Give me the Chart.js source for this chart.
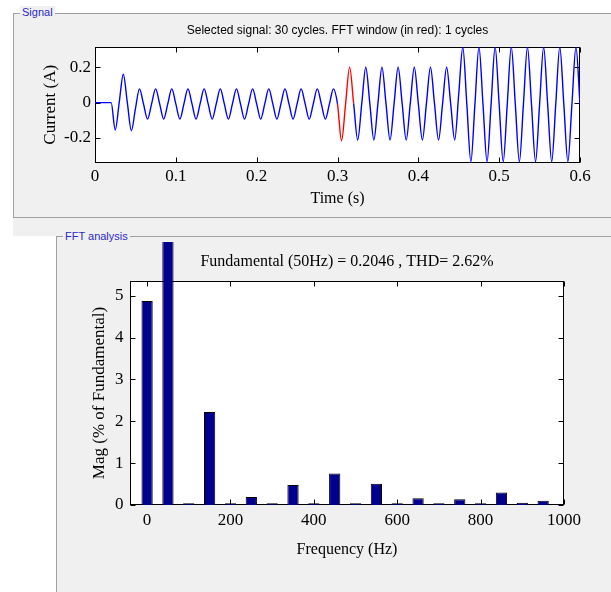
<!DOCTYPE html>
<html>
<head>
<meta charset="utf-8">
<title>powergui FFT analysis</title>
<script src="https://cdn.jsdelivr.net/npm/chart.js@4.4.1/dist/chart.umd.min.js"></script>
<style>
  html, body { margin: 0; padding: 0; background: #fff; }
  body { width: 611px; height: 592px; position: relative; overflow: hidden; }
  .panel { position: absolute; background: #f0f0f0; border: 1px solid #a0a0a0; }
  .band { position: absolute; background: #f0f0f0; }
  .panel-label {
    position: absolute; padding: 0 2px; background: #f0f0f0; color: #2b2bc4;
    font: 11px "Liberation Sans", Arial, sans-serif; line-height: 13px; white-space: nowrap;
  }
  canvas { position: absolute; }
</style>
</head>
<body>
  <div class="panel" style="left:13px; top:13px; width:640px; height:203px;"></div>
  <div class="band" style="left:13px; top:218px; width:640px; height:18px;"></div>
  <div class="panel" style="left:56px; top:236px; width:600px; height:400px;"></div>

  <canvas id="signalChart" width="597" height="203" style="left:14px; top:14px;"></canvas>
  <canvas id="fftChart" width="554" height="350" style="left:57px; top:242px;"></canvas>

  <div class="panel-label" style="left:20px; top:6px;">Signal</div>
  <div class="panel-label" style="left:63px; top:230px;">FFT analysis</div>

<script>
// Signal trace, sampled every quarter cycle (50 Hz)
const signalTime = [
  0, 0.005, 0.01, 0.015, 0.02,
  0.025, 0.03, 0.035, 0.04,
  0.045, 0.05, 0.055, 0.06,
  0.065, 0.07, 0.075, 0.08,
  0.085, 0.09, 0.095, 0.1,
  0.105, 0.11, 0.115, 0.12,
  0.125, 0.13, 0.135, 0.14,
  0.145, 0.15, 0.155, 0.16,
  0.165, 0.17, 0.175, 0.18,
  0.185, 0.19, 0.195, 0.2,
  0.205, 0.21, 0.215, 0.22,
  0.225, 0.23, 0.235, 0.24,
  0.245, 0.25, 0.255, 0.26,
  0.265, 0.27, 0.275, 0.28,
  0.285, 0.29, 0.295, 0.3,
  0.305, 0.31, 0.315, 0.32,
  0.325, 0.33, 0.335, 0.34,
  0.345, 0.35, 0.355, 0.36,
  0.365, 0.37, 0.375, 0.38,
  0.385, 0.39, 0.395, 0.4,
  0.405, 0.41, 0.415, 0.42,
  0.425, 0.43, 0.435, 0.44,
  0.445, 0.45, 0.455, 0.46,
  0.465, 0.47, 0.475, 0.48,
  0.485, 0.49, 0.495, 0.5,
  0.505, 0.51, 0.515, 0.52,
  0.525, 0.53, 0.535, 0.54,
  0.545, 0.55, 0.555, 0.56,
  0.565, 0.57, 0.575, 0.58,
  0.585, 0.59, 0.595, 0.6,
];
const signalCurrent = [
  0, 0, 0, 0, 0,
  -0.155, 0.002, 0.161, 0.0,
  -0.159, -0.035, 0.078, -0.007,
  -0.093, -0.007, 0.078, -0.007,
  -0.093, -0.007, 0.078, -0.007,
  -0.093, -0.007, 0.078, -0.007,
  -0.093, -0.007, 0.078, -0.007,
  -0.093, -0.007, 0.078, -0.007,
  -0.093, -0.007, 0.078, -0.007,
  -0.093, -0.007, 0.078, -0.007,
  -0.093, -0.007, 0.078, -0.007,
  -0.093, -0.007, 0.078, -0.007,
  -0.093, -0.007, 0.078, -0.007,
  -0.093, -0.007, 0.078, -0.007,
  -0.093, -0.007, 0.078, -0.007,
  -0.216, -0.008, 0.201, -0.006,
  -0.212, -0.006, 0.2, -0.006,
  -0.212, -0.006, 0.2, -0.006,
  -0.212, -0.006, 0.2, -0.006,
  -0.212, -0.006, 0.2, -0.006,
  -0.212, -0.006, 0.2, -0.006,
  -0.212, -0.006, 0.2, -0.006,
  -0.212, 0.05, 0.315, -0.01,
  -0.335, -0.01, 0.315, -0.01,
  -0.335, -0.01, 0.315, -0.01,
  -0.335, -0.01, 0.315, -0.01,
  -0.335, -0.01, 0.315, -0.01,
  -0.335, -0.01, 0.315, -0.01,
  -0.335, -0.01, 0.315, -0.01,
  -0.335, -0.01, 0.315, -0.01,
];
const fftWindowStart = 0.3;
const fftWindowEnd = 0.32;
const timeTicks = [0, 0.1, 0.2, 0.3, 0.4, 0.5, 0.6];
const currentTicks = [-0.2, 0, 0.2];

// Harmonic spectrum, % of fundamental
const harmonicFreq = [0, 50, 100, 150, 200, 250, 300, 350, 400, 450, 500, 550, 600, 650, 700, 750, 800, 850, 900, 950];
const harmonicMag = [4.87, 100, 0.04, 2.22, 0.04, 0.19, 0.04, 0.48, 0.04, 0.75, 0.04, 0.51, 0.04, 0.16, 0.04, 0.135, 0.04, 0.3, 0.055, 0.1];
const freqTicks = [0, 200, 400, 600, 800, 1000];
const magTicks = [0, 1, 2, 3, 4, 5];

const selectedCycles = 30;
const windowCycles = 1;
const fundamentalAmp = 0.2046;
const thdPercent = 2.62;

const serif = '"Liberation Serif", "Times New Roman", serif';
const sans = '"Liberation Sans", Arial, sans-serif';
Chart.defaults.color = "#000";
Chart.defaults.font.family = serif;

// White plot box with inward ticks on all four sides
const boxedAxes = {
  id: "boxedAxes",
  beforeDraw(chart) {
    const { ctx, chartArea: a } = chart;
    ctx.save();
    ctx.fillStyle = "#fff";
    ctx.fillRect(a.left, a.top, a.right - a.left, a.bottom - a.top);
    ctx.restore();
  },
  beforeDatasetsDraw(chart) {
    const { ctx, chartArea: a, scales } = chart;
    const len = 5;
    const l = Math.round(a.left) + 0.5;
    const r = Math.round(a.right) - 0.5;
    const t = Math.round(a.top) + 0.5;
    const b = Math.round(a.bottom) - 0.5;
    ctx.save();
    ctx.strokeStyle = "#000";
    ctx.lineWidth = 1;
    ctx.beginPath();
    scales.x.ticks.forEach((tick) => {
      const px = Math.round(scales.x.getPixelForValue(tick.value)) + 0.5;
      ctx.moveTo(px, b);
      ctx.lineTo(px, b - len);
      ctx.moveTo(px, t);
      ctx.lineTo(px, t + len);
    });
    scales.y.ticks.forEach((tick) => {
      const py = Math.round(scales.y.getPixelForValue(tick.value)) + 0.5;
      ctx.moveTo(l, py);
      ctx.lineTo(l + len, py);
      ctx.moveTo(r, py);
      ctx.lineTo(r - len, py);
    });
    ctx.stroke();
    ctx.strokeRect(l, t, r - l, b - t);
    ctx.restore();
  },
};

function fixedTicks(values) {
  return (axis) => {
    axis.ticks = values.map((v) => ({ value: v }));
  };
}

// Signal chart
const signalChart = new Chart(document.getElementById("signalChart"), {
  type: "line",
  data: {
    datasets: [
      {
        data: signalTime.map((t, i) => ({ x: t, y: signalCurrent[i] })),
        borderColor: "#0000ff",
        borderWidth: 1.4,
        pointRadius: 0,
        cubicInterpolationMode: "monotone",
        segment: {
          borderColor: (ctx) =>
            signalTime[ctx.p0DataIndex] >= fftWindowStart &&
            signalTime[ctx.p1DataIndex] <= fftWindowEnd
              ? "#ff0000"
              : undefined,
        },
      },
    ],
  },
  options: {
    responsive: false,
    animation: false,
    layout: { padding: { left: 0, right: 31, top: 0, bottom: 0 } },
    plugins: {
      legend: { display: false },
      tooltip: { enabled: false },
      title: {
        display: true,
        fullSize: false,
        text: "Selected signal: " + selectedCycles + " cycles. FFT window (in red): " + windowCycles + " cycles",
        font: { family: sans, size: 12, weight: "normal" },
        color: "#000",
        padding: { top: 9, bottom: 9.6 },
      },
    },
    scales: {
      x: {
        type: "linear",
        min: 0,
        max: 0.6,
        afterBuildTicks: fixedTicks(timeTicks),
        afterFit: (s) => { s.height = 54.5; },
        grid: { display: false, drawTicks: false },
        border: { display: false },
        ticks: { font: { size: 17 }, padding: 4.3, maxRotation: 0, callback: (v) => String(v) },
        title: { display: true, text: "Time (s)", font: { size: 16 }, padding: { top: 0, bottom: 9.1 } },
      },
      y: {
        min: -0.339,
        max: 0.315,
        afterBuildTicks: fixedTicks(currentTicks),
        afterFit: (s) => { s.width = 81; },
        grid: { display: false, drawTicks: false },
        border: { display: false },
        ticks: { font: { size: 17 }, padding: 4, callback: (v) => String(v) },
        title: { display: true, text: "Current (A)", font: { size: 17 }, padding: { top: 26.5, bottom: 0 } },
      },
    },
  },
  plugins: [boxedAxes],
});

// FFT spectrum chart
const fftChart = new Chart(document.getElementById("fftChart"), {
  type: "bar",
  data: {
    datasets: [
      {
        data: harmonicFreq.map((f, i) => ({ x: f, y: harmonicMag[i] })),
        backgroundColor: "#00008f",
        borderColor: "#000",
        borderWidth: 1,
        barPercentage: 0.54,
        categoryPercentage: 1,
        clip: false,
      },
    ],
  },
  options: {
    responsive: false,
    animation: false,
    layout: { padding: { left: 0, right: 47, top: 0, bottom: 0 } },
    plugins: {
      legend: { display: false },
      tooltip: { enabled: false },
      title: {
        display: true,
        fullSize: false,
        text: "Fundamental (50Hz) = " + fundamentalAmp + " , THD= " + thdPercent + "%",
        font: { family: serif, size: 16, weight: "normal" },
        color: "#000",
        padding: { top: 10.4, bottom: 9.4 },
      },
    },
    scales: {
      x: {
        type: "linear",
        min: -41,
        max: 1000,
        offset: false,
        afterBuildTicks: fixedTicks(freqTicks),
        afterFit: (s) => { s.height = 87; },
        grid: { display: false, drawTicks: false, offset: false },
        border: { display: false },
        ticks: { font: { size: 17 }, padding: 5.6, maxRotation: 0, callback: (v) => String(v) },
        title: { display: true, text: "Frequency (Hz)", font: { size: 16 }, padding: { top: 0, bottom: 32.4 } },
      },
      y: {
        min: 0,
        max: 5.35,
        afterBuildTicks: fixedTicks(magTicks),
        afterFit: (s) => { s.width = 73; },
        grid: { display: false, drawTicks: false },
        border: { display: false },
        ticks: { font: { size: 17 }, padding: 6.5, callback: (v) => String(v) },
        title: { display: true, text: "Mag (% of Fundamental)", font: { size: 17 }, padding: { top: 32.8, bottom: 0 } },
      },
    },
  },
  plugins: [boxedAxes],
});
</script>
</body>
</html>
